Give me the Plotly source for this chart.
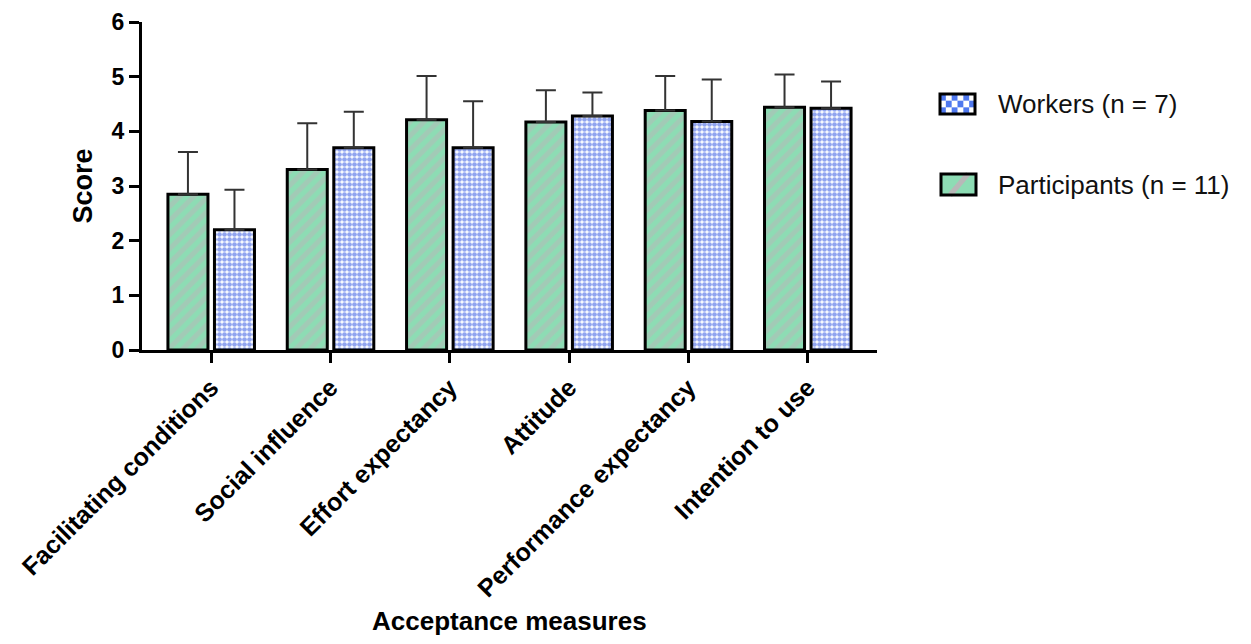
import plotly.graph_objects as go

categories = ["Facilitating conditions", "Social influence", "Effort expectancy",
              "Attitude", "Performance expectancy", "Intention to use"]
participants_mean = [2.85, 3.30, 4.21, 4.17, 4.38, 4.44]
participants_sd = [0.77, 0.85, 0.80, 0.58, 0.63, 0.60]
workers_mean = [2.20, 3.70, 3.70, 4.28, 4.18, 4.42]
workers_sd = [0.73, 0.66, 0.85, 0.43, 0.77, 0.49]
y_ticks = [0, 1, 2, 3, 4, 5, 6]
legend_labels = ["Workers (n = 7)", "Participants (n = 11)"]
x_title = "Acceptance measures"
y_title = "Score"

GREEN = "#8ddcb4"
STRIPE = "#b8b8b8"
BLUE = "#2349e0"
FONT = "Liberation Sans, Arial, sans-serif"

OFF = 8  # page body margin
W, H = 1251 - 2 * OFF, 644 - 2 * OFF
# plot area in page pixels
PL, PR, PT, PB = 142, 877, 22, 350
ML, MT = PL - OFF, PT - OFF
MR, MB = W - (PR - OFF), H - (PB - OFF)
PW, PH = PR - PL, PB - PT


def px(x):
    return (x - PL) / PW


def py(y):
    return (PB - y) / PH


fig = go.Figure()
fig.add_trace(go.Bar(
    x=categories, y=participants_mean, name=legend_labels[1], showlegend=False,
    marker=dict(color=GREEN, line=dict(color="black", width=3),
                pattern=dict(shape="/", fgcolor=STRIPE, bgcolor=GREEN, size=10, solidity=0.5)),
    error_y=dict(type="data", symmetric=False, array=participants_sd,
                 arrayminus=[0] * len(participants_sd), color="#333333", thickness=2, width=10),
))
fig.add_trace(go.Bar(
    x=categories, y=workers_mean, name=legend_labels[0], showlegend=False,
    marker=dict(color=BLUE, line=dict(color="black", width=3),
                pattern=dict(shape=".", fgcolor=BLUE, bgcolor="white", size=5, solidity=0.7)),
    error_y=dict(type="data", symmetric=False, array=workers_sd,
                 arrayminus=[0] * len(workers_sd), color="#333333", thickness=2, width=10),
))

shapes = []
annotations = []
# Legend: Workers
wx0, wx1, wy0, wy1 = 940, 975, 94, 114
shapes.append(dict(type="rect", xref="paper", yref="paper", x0=px(wx0), x1=px(wx1),
                   y0=py(wy1), y1=py(wy0), fillcolor="white", line=dict(width=0)))
ncol, nrow = 6, 3
cw, ch = (wx1 - wx0) / ncol, (wy1 - wy0) / nrow
for i in range(ncol):
    for j in range(nrow):
        if (i + j) % 2 == 0:
            shapes.append(dict(type="rect", xref="paper", yref="paper",
                               x0=px(wx0 + i * cw), x1=px(wx0 + (i + 1) * cw),
                               y0=py(wy0 + (j + 1) * ch), y1=py(wy0 + j * ch),
                               fillcolor="#4f78ee", line=dict(width=0)))
shapes.append(dict(type="rect", xref="paper", yref="paper", x0=px(wx0), x1=px(wx1),
                   y0=py(wy1), y1=py(wy0), line=dict(color="black", width=3)))
annotations.append(dict(xref="paper", yref="paper", x=px(996), y=py(104), text=legend_labels[0],
                        showarrow=False, xanchor="left", yanchor="middle",
                        font=dict(family=FONT, size=26, color="#111")))
# Legend: Participants
qx0, qx1, qy0, qy1 = 941, 976, 174, 195
shapes.append(dict(type="rect", xref="paper", yref="paper", x0=px(qx0), x1=px(qx1),
                   y0=py(qy1), y1=py(qy0), fillcolor=GREEN, line=dict(width=0)))
shapes.append(dict(type="line", xref="paper", yref="paper", x0=px(950), x1=px(968),
                   y0=py(195), y1=py(174), line=dict(color=STRIPE, width=5)))
shapes.append(dict(type="rect", xref="paper", yref="paper", x0=px(qx0), x1=px(qx1),
                   y0=py(qy1), y1=py(qy0), line=dict(color="black", width=3)))
annotations.append(dict(xref="paper", yref="paper", x=px(996), y=py(184.5), text=legend_labels[1],
                        showarrow=False, xanchor="left", yanchor="middle",
                        font=dict(family=FONT, size=26, color="#111")))
# x-axis title
annotations.append(dict(xref="paper", yref="paper", x=0.5, y=py(621), text=x_title,
                        showarrow=False, xanchor="center", yanchor="middle",
                        font=dict(family=FONT, size=26, weight="bold", color="black")))

fig.update_layout(
    width=W, height=H,
    margin=dict(l=ML, r=MR, t=MT, b=MB, autoexpand=False),
    paper_bgcolor="white", plot_bgcolor="white",
    barmode="group", bargap=0.22, bargroupgap=0.14,
    font=dict(family=FONT, color="black"),
    shapes=shapes, annotations=annotations,
    xaxis=dict(
        type="category", range=[-0.58, 5.58], showline=True, linecolor="black", linewidth=3,
        ticks="outside", ticklen=10, tickwidth=3, tickcolor="black", tickangle=-45,
        tickfont=dict(family=FONT, size=25, weight="bold", color="black"),
        showgrid=False, zeroline=False, automargin=False,
    ),
    yaxis=dict(
        range=[0, 6], tickvals=y_ticks, showline=True, linecolor="black", linewidth=3,
        ticks="outside", ticklen=10, tickwidth=3, tickcolor="black",
        tickfont=dict(family=FONT, size=23, weight="bold", color="black"),
        showgrid=False, zeroline=False, automargin=False,
        title=dict(text=y_title, font=dict(family=FONT, size=27, weight="bold"), standoff=12),
    ),
)

fig.write_html("out.html")
